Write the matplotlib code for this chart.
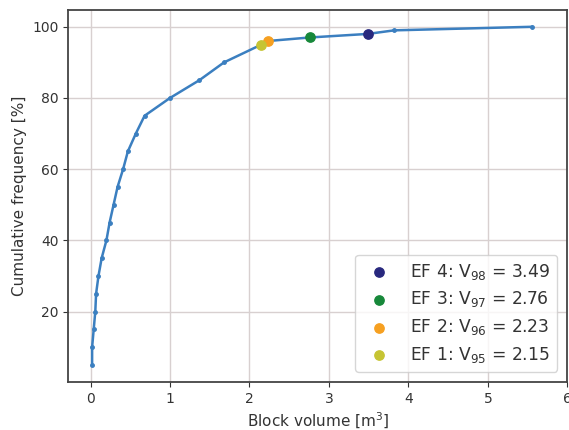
import matplotlib
matplotlib.use('Agg')
import matplotlib.pyplot as plt

volume = [0.02, 0.02, 0.04, 0.06, 0.07, 0.10, 0.14, 0.20, 0.24, 0.29, 0.34,
          0.41, 0.47, 0.57, 0.68, 1.00, 1.37, 1.68, 2.15, 2.23, 2.76, 3.49,
          3.82, 5.55]
freq = [5, 10, 15, 20, 25, 30, 35, 40, 45, 50, 55, 60, 65, 70, 75, 80, 85, 90,
        95, 96, 97, 98, 99, 100]

ef_labels = ['EF 4: V$_{98}$ = 3.49', 'EF 3: V$_{97}$ = 2.76',
             'EF 2: V$_{96}$ = 2.23', 'EF 1: V$_{95}$ = 2.15']
ef_x = [3.49, 2.76, 2.23, 2.15]
ef_y = [98, 97, 96, 95]
ef_colors = ['#28287e', '#17883a', '#f6a021', '#c6c433']

fig = plt.figure(figsize=(5.69, 4.30), dpi=100)
ax = fig.add_axes([0.12, 0.112, 0.877, 0.865])

ax.plot(volume, freq, c='#3b7fc0', lw=1.8, marker='.', ms=5, zorder=2)
for x, y, lab, col in zip(ef_x, ef_y, ef_labels, ef_colors):
    ax.scatter(x, y, s=45, c=col, label=lab, zorder=3)

ax.set_xlim(-0.28, 6)
ax.set_ylim(0.25, 104.75)
ax.set_xticks([0, 1, 2, 3, 4, 5, 6])
ax.set_yticks([20, 40, 60, 80, 100])
ax.grid(color='#d8d0d0', lw=1)
ax.set_axisbelow(True)
for s in ax.spines.values():
    s.set_color('#444444')
    s.set_linewidth(1.3)
ax.tick_params(labelsize=10, colors='#333333')
ax.set_xlabel('Block volume [m$^3$]', fontsize=11, color='#333333')
ax.set_ylabel('Cumulative frequency [%]', fontsize=11, color='#333333')
ax.legend(loc='lower right', fontsize=12.3, handletextpad=0.8,
          labelspacing=0.45, labelcolor='#333333', borderaxespad=0.6)

fig.savefig('out.png', dpi=100)
